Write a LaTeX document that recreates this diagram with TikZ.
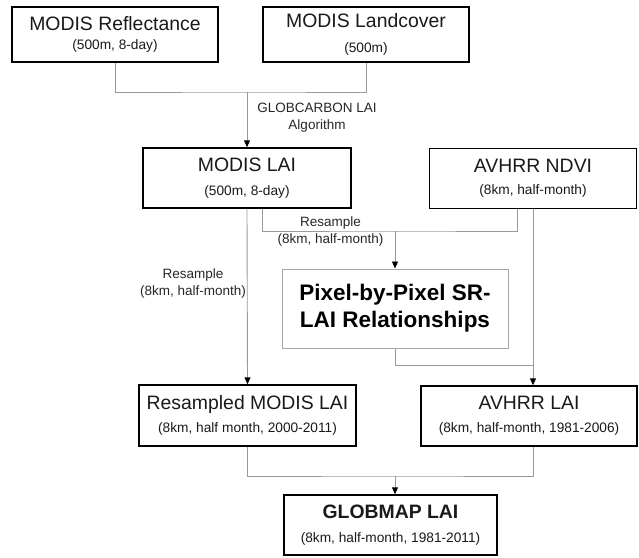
\documentclass[tikz,border=0pt]{standalone}
\usepackage{fontspec}
\setmainfont{Liberation Sans}
\usetikzlibrary{arrows.meta}
\newcommand\boxhead{\fontsize{19.4}{23.3}\selectfont}
\newcommand\boxsub{\fontsize{13.7}{16.5}\selectfont}
\newcommand\notesize{\fontsize{13.5}{17}\selectfont}

\begin{document}
\begin{tikzpicture}[x=1pt, y=-1pt,
    box/.style={draw=black, line width=1.4pt, inner sep=0pt, align=center, font=\boxhead, text=black!90,
        execute at begin node={\rule{0pt}{22pt}}},
    softbox/.style={draw=black!35, line width=1pt, inner sep=0pt, align=center, font=\bfseries\fontsize{22.5}{27}\selectfont},
    link/.style={draw=black!40, line width=0.9pt},
    arrow/.style={link, -{Triangle[length=7pt,width=6pt,color=black]}},
    note/.style={font=\notesize, align=center, text=black!85}]
        \useasboundingbox (0,0) rectangle (639,557);
        \node[box, minimum width=206pt, minimum height=55pt] (refl) at (115,34.5) {MODIS Reflectance\\[-4pt]{\boxsub (500m, 8-day)}};
        \node[box, minimum width=206pt, minimum height=55pt] (land) at (366,34.5) {MODIS Landcover\\[1pt]{\boxsub (500m)}};
        \node[box, minimum width=208pt, minimum height=60pt] (modislai) at (247,178) {MODIS LAI\\[0pt]{\boxsub (500m, 8-day)}};
        \node[box, minimum width=207pt, minimum height=60pt] (ndvi) at (533,178.5) {AVHRR NDVI\\[-1pt]{\boxsub (8km, half-month)}};
        \node[softbox, minimum width=226pt, minimum height=79pt] (pixel) at (395,308.5) {Pixel-by-Pixel SR-\\LAI Relationships};
        \node[box, minimum width=217pt, minimum height=61pt] (resamp) at (247.5,415.5) {Resampled MODIS LAI\\[0pt]{\boxsub (8km, half month, 2000-2011)}};
        \node[box, minimum width=216pt, minimum height=60pt] (avlai) at (529,416) {AVHRR LAI\\[0pt]{\boxsub (8km, half-month, 1981-2006)}};
        \node[box, minimum width=213pt, minimum height=60pt] (globmap) at (390.5,525) {\bfseries GLOBMAP LAI\\[1pt]{\boxsub (8km, half-month, 1981-2011)}};

        \coordinate (join1) at (247,92);
        \coordinate (join2) at (395,231);
        \coordinate (join3) at (533,365);
        \coordinate (join4) at (395,476);

        \draw[link] (refl.south) |- (join1) -| (land.south);
        \draw[arrow] (join1) -- (modislai.north);
        \node[note] (algo) at (317,118) {GLOBCARBON LAI\\Algorithm};

        \draw[arrow] (modislai.south) -- (resamp.north);
        \node[note] (resleft) at (193,283.5) {Resample\\(8km, half-month)};

        \draw[link] ([xshift=15pt]modislai.south) |- (join2) -| ([xshift=-16pt]ndvi.south);
        \draw[arrow] (join2) -- (pixel.north);
        \node[note] (resmid) at (330.5,231.5) {Resample\\(8km, half-month)};

        \draw[arrow] (ndvi.south) -- (ndvi.south |- avlai.north);
        \draw[link] (pixel.south) |- (join3);

        \draw[link] (resamp.south) |- (join4) -| (ndvi.south |- avlai.south);
        \draw[arrow] (join4) -- (join4 |- globmap.north);
\end{tikzpicture}
\end{document}
